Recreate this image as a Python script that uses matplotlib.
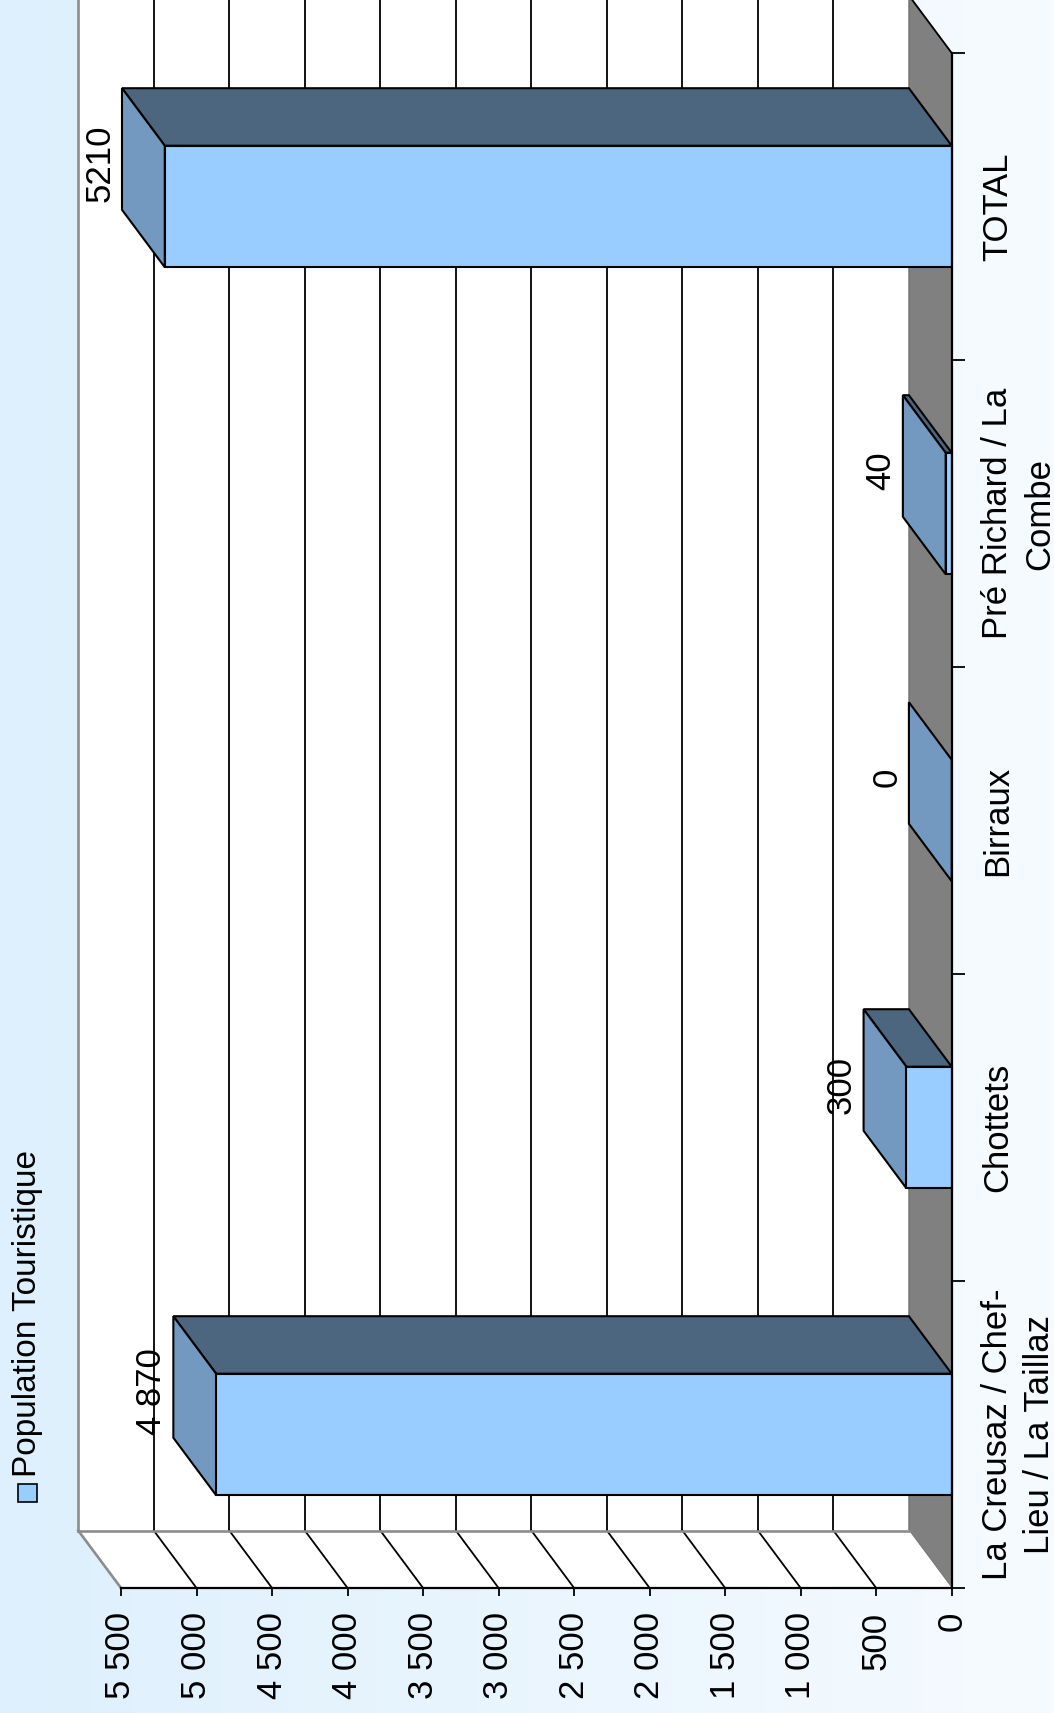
import numpy as np
import matplotlib
matplotlib.use("Agg")
import matplotlib.pyplot as plt
from matplotlib.patches import Polygon, Rectangle
from matplotlib.transforms import offset_copy
from matplotlib.ticker import FixedLocator, FuncFormatter, NullFormatter, FixedFormatter
from matplotlib.colors import LinearSegmentedColormap

# ---------------- data ----------------
categories = ["La Creusaz / Chef-\nLieu / La Taillaz", "Chottets", "Birraux",
              "Pré Richard / La\nCombe", "TOTAL"]
values = [4870, 300, 0, 40, 5210]
value_labels = ["4 870", "300", "0", "40", "5210"]
value_ticks = [0, 500, 1000, 1500, 2000, 2500, 3000, 3500, 4000, 4500, 5000, 5500]
series_name = "Population Touristique"

# ---------------- style ----------------
plt.rcParams['font.family'] = ['Liberation Sans', 'DejaVu Sans']
FRONT = '#99CCFF'
SIDE = '#7399C0'
DARK = '#4C6680'
FLOOR = '#808080'
BORDER = '#8C8C8C'
FS = 25

W, H, DPI = 1054, 1713, 100
fig = plt.figure(figsize=(W / DPI, H / DPI), dpi=DPI)

# background gradient
bg = fig.add_axes([0, 0, 1, 1], zorder=-10)
grad = np.linspace(0, 1, 256)[None, :]
cmap = LinearSegmentedColormap.from_list('bg', ['#DEF0FD', '#F6FBFF'])
bg.imshow(grad, aspect='auto', cmap=cmap, extent=[0, 1, 0, 1])
bg.set_xlim(0, 1); bg.set_ylim(0, 1)
bg.axis('off')

# main axes = front plane of the rotated 3D chart
x0_px, x1_px = 121.0, 951.7     # value 5500 -> 0 (pixels from left)
yb_px, yt_px = 1588.0, 53.0     # category -0.5 -> 4.5 (pixels from top)
ax = fig.add_axes([x0_px / W, (H - yb_px) / H, (x1_px - x0_px) / W, (yb_px - yt_px) / H])
vmax = value_ticks[-1]
ax.set_xlim(vmax, 0)
ax.set_ylim(-0.5, len(categories) - 0.5)
ax.patch.set_visible(False)
ymin, ymax = -0.5, len(categories) - 0.5

# depth offset (in data units) from a pixel offset
DEPTH_PX = (-42.8, 57.5)
p0 = ax.transData.transform((0, 0))
q = ax.transData.inverted().transform((p0[0] + DEPTH_PX[0], p0[1] + DEPTH_PX[1]))
DX, DY = q[0], q[1]

kw = dict(clip_on=False)
# back wall
ax.add_patch(Polygon([(vmax + DX, ymin + DY), (DX, ymin + DY), (DX, ymax + DY), (vmax + DX, ymax + DY)],
                     fc='white', ec='none', zorder=0.5, **kw))
# floor (right strip)
ax.add_patch(Polygon([(0, ymin), (0, ymax), (DX, ymax + DY), (DX, ymin + DY)],
                     fc=FLOOR, ec='#6a6a6a', lw=0.8, zorder=0.6, **kw))
# side wall (bottom strip)
ax.add_patch(Polygon([(vmax, ymin), (0, ymin), (DX, ymin + DY), (vmax + DX, ymin + DY)],
                     fc='white', ec='none', zorder=0.6, **kw))

# gridlines
for v in value_ticks[1:-1]:
    ax.plot([v + DX, v + DX], [ymin + DY, ymax + DY], color='black', lw=1.3, zorder=0.8, **kw)
    ax.plot([v, v + DX], [ymin, ymin + DY], color='black', lw=1.3, zorder=0.8, **kw)

# wall borders
ax.plot([vmax + DX, vmax + DX], [ymin + DY, ymax + DY], color=BORDER, lw=1.9, zorder=0.9, **kw)
ax.plot([vmax + DX, DX], [ymin + DY, ymin + DY], color=BORDER, lw=1.9, zorder=0.9, **kw)
ax.plot([vmax, vmax + DX], [ymin, ymin + DY], color=BORDER, lw=1.9, zorder=0.9, **kw)
ax.plot([0, DX], [ymax, ymax + DY], color='black', lw=1.3, zorder=0.9, **kw)

# bars
hw = 0.198
lab_tr = offset_copy(ax.transData, fig=fig, x=-22, y=43, units='dots')
for i, (v, lab) in enumerate(zip(values, value_labels)):
    c = i
    if v > 0:
        ax.add_patch(Polygon([(v, c + hw), (0, c + hw), (DX, c + hw + DY), (v + DX, c + hw + DY)],
                             fc=DARK, ec='black', lw=1.5, zorder=3, joinstyle='miter', **kw))
    ax.add_patch(Polygon([(v, c - hw), (v, c + hw), (v + DX, c + hw + DY), (v + DX, c - hw + DY)],
                         fc=SIDE, ec='black', lw=1.5, zorder=3, joinstyle='miter', **kw))
    if v > 0:
        ax.add_patch(Rectangle((0, c - hw), v, 2 * hw, fc=FRONT, ec='black', lw=1.5, zorder=3.2, **kw))
    ax.text(v + DX, c, lab, transform=lab_tr, rotation=90, ha='center', va='center',
            fontsize=FS, zorder=5)

# axes / ticks
ax.spines['top'].set_visible(False)
ax.spines['left'].set_visible(False)
for s in ('bottom', 'right'):
    ax.spines[s].set_linewidth(1.6)
    ax.spines[s].set_zorder(4)
ax.xaxis.set_major_locator(FixedLocator(value_ticks))
ax.xaxis.set_major_formatter(FuncFormatter(lambda v, p: f"{int(round(v)):,}".replace(",", " ")))
ax.tick_params(axis='x', direction='out', length=5.8, width=1.3, pad=11.5, labelsize=FS, labelrotation=90)

ax.yaxis.tick_right()
ax.yaxis.set_major_locator(FixedLocator(np.arange(ymin, ymax + 0.01, 1)))
ax.yaxis.set_major_formatter(NullFormatter())
ax.yaxis.set_minor_locator(FixedLocator(range(len(categories))))
ax.yaxis.set_minor_formatter(FixedFormatter(categories))
ax.tick_params(axis='y', which='major', direction='out', length=9, width=1.3, right=True, left=False)
ax.tick_params(axis='y', which='minor', length=0, pad=21, labelsize=FS, labelrotation=90,
               right=True, left=False, labelright=True, labelleft=False)
for t in ax.get_yticklabels(minor=True):
    t.set_va('center')
    t.set_ha('left')
    t.set_multialignment('center')
    t.set_linespacing(1.35)

# legend (rotated)
fig.patches.append(Rectangle((18 / W, (H - 1502) / H), 19 / W, 18 / H, transform=fig.transFigure,
                             fc=FRONT, ec='black', lw=1.2, figure=fig))
fig.text(28 / W, (H - 1477) / H, series_name, rotation=90, ha='center', va='bottom', fontsize=24)

fig.savefig("out.png", dpi=DPI)
